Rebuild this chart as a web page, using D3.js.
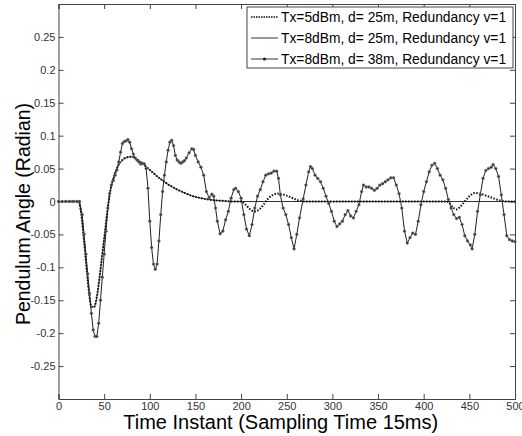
<!DOCTYPE html>
<html>
<head>
<meta charset="utf-8">
<script src="https://cdn.jsdelivr.net/npm/d3@7"></script>
<style>
  body { margin: 0; background: #fff; }
  text { font-family: "Liberation Sans", Arial, sans-serif; }
</style>
</head>
<body>
<div id="chart"></div>
<script>
// Series 1: Tx=5dBm, d=25m (dotted)
const t1 = [0, 22, 25, 28, 31, 34, 36, 39, 42, 45, 48, 51, 54, 57, 60, 63, 66, 70, 75, 80, 85, 90, 95, 100, 105, 110, 115, 120, 125, 130, 135, 140, 145, 150, 160, 170, 180, 190, 200, 205, 210, 215, 220, 225, 230, 235, 240, 245, 250, 255, 260, 265, 270, 300, 350, 400, 425, 428, 432, 436, 440, 445, 450, 456, 462, 468, 474, 480, 486, 490, 500];
const v1 = [0, 0, -0.02, -0.06, -0.105, -0.145, -0.16, -0.16, -0.145, -0.115, -0.08, -0.045, -0.01, 0.018, 0.035, 0.047, 0.056, 0.063, 0.067, 0.068, 0.065, 0.06, 0.054, 0.048, 0.042, 0.036, 0.031, 0.026, 0.022, 0.018, 0.015, 0.012, 0.009, 0.007, 0.004, 0.002, 0.001, 0, 0, -0.005, -0.012, -0.015, -0.012, -0.004, 0.005, 0.01, 0.012, 0.011, 0.009, 0.006, 0.003, 0.001, 0, 0, 0, 0, 0, -0.002, -0.009, -0.012, -0.008, 0, 0.008, 0.013, 0.012, 0.009, 0.006, 0.003, 0.001, 0, 0];

// Series 2: Tx=8dBm, d=25m (thin solid)
const t2 = [0, 22, 25, 28, 31, 34, 36, 39, 42, 45, 48, 51, 54, 57, 60, 63, 66, 70, 75, 80, 85, 90, 95, 100, 105, 110, 115, 120, 125, 130, 135, 140, 145, 150, 160, 170, 180, 190, 200, 300, 400, 500];
const v2 = [0, 0, -0.02, -0.06, -0.105, -0.145, -0.16, -0.16, -0.145, -0.115, -0.08, -0.045, -0.01, 0.018, 0.035, 0.047, 0.056, 0.063, 0.067, 0.068, 0.065, 0.06, 0.054, 0.048, 0.042, 0.036, 0.031, 0.026, 0.022, 0.018, 0.015, 0.012, 0.009, 0.007, 0.004, 0.002, 0.001, 0, 0, 0, 0, 0];

// Series 3: Tx=8dBm, d=38m (solid with markers)
const t3 = [0, 4, 8, 12, 16, 20, 23, 26, 28, 30, 32, 34, 36, 38, 40, 42, 44, 46, 48, 50, 52, 54, 56, 58, 60, 62, 64, 66, 68, 70, 72, 74, 76, 78, 80, 82, 84, 86, 88, 90, 92, 94, 96, 98, 100, 102, 104, 106, 108, 110, 112, 114, 116, 118, 120, 122, 124, 126, 128, 130, 132, 134, 136, 138, 140, 143, 146, 148, 150, 153, 156, 159, 162, 165, 168, 170, 172, 174, 177, 180, 183, 186, 189, 192, 194, 197, 200, 203, 206, 209, 212, 215, 218, 221, 224, 227, 230, 233, 236, 239, 241, 243, 246, 249, 252, 255, 258, 261, 264, 268, 271, 274, 276, 278, 281, 284, 287, 290, 293, 296, 299, 302, 305, 308, 311, 314, 317, 320, 323, 326, 329, 332, 334, 337, 340, 343, 346, 349, 352, 355, 358, 361, 364, 367, 370, 373, 376, 379, 382, 385, 388, 391, 394, 397, 400, 403, 406, 409, 412, 415, 418, 421, 424, 427, 430, 433, 436, 439, 442, 445, 448, 451, 453, 456, 459, 462, 465, 468, 471, 474, 476, 479, 482, 485, 488, 491, 494, 497, 500];
const v3 = [0, 0, 0, 0, 0, 0, 0, -0.02, -0.05, -0.08, -0.11, -0.14, -0.17, -0.195, -0.205, -0.205, -0.185, -0.15, -0.115, -0.08, -0.045, -0.01, 0.012, 0.025, 0.032, 0.04, 0.048, 0.06, 0.075, 0.088, 0.091, 0.092, 0.094, 0.09, 0.08, 0.072, 0.066, 0.063, 0.06, 0.057, 0.058, 0.057, 0.05, 0.02, -0.03, -0.07, -0.095, -0.103, -0.095, -0.06, -0.02, 0.015, 0.04, 0.06, 0.078, 0.09, 0.093, 0.085, 0.07, 0.063, 0.06, 0.058, 0.06, 0.062, 0.066, 0.074, 0.08, 0.079, 0.07, 0.06, 0.052, 0.04, 0.015, 0.006, 0.011, 0.008, -0.01, -0.03, -0.049, -0.045, -0.028, -0.015, 0.005, 0.018, 0.02, 0.015, 0.005, -0.02, -0.042, -0.052, -0.035, -0.01, 0.008, 0.018, 0.03, 0.04, 0.042, 0.043, 0.046, 0.046, 0.035, 0.01, -0.01, -0.02, -0.035, -0.055, -0.072, -0.05, -0.025, 0.004, 0.025, 0.045, 0.053, 0.05, 0.04, 0.035, 0.03, 0.02, 0.008, -0.003, -0.015, -0.03, -0.038, -0.034, -0.03, -0.02, -0.014, -0.022, -0.025, -0.015, -0.005, 0.015, 0.025, 0.022, 0.022, 0.02, 0.017, 0.02, 0.025, 0.027, 0.03, 0.033, 0.036, 0.036, 0.025, 0.012, -0.01, -0.045, -0.063, -0.055, -0.048, -0.05, -0.03, -0.005, 0.015, 0.03, 0.045, 0.055, 0.058, 0.05, 0.04, 0.033, 0.02, 0.003, -0.01, -0.02, -0.026, -0.024, -0.035, -0.052, -0.06, -0.066, -0.072, -0.05, -0.015, 0.01, 0.035, 0.047, 0.05, 0.052, 0.056, 0.05, 0.038, 0.01, -0.02, -0.052, -0.058, -0.06, -0.061];

const xTicks = [0, 50, 100, 150, 200, 250, 300, 350, 400, 450, 500];
const yTicks = [-0.25, -0.2, -0.15, -0.1, -0.05, 0, 0.05, 0.1, 0.15, 0.2, 0.25];
const legendLabels = [
    "Tx=5dBm, d= 25m, Redundancy v=1",
    "Tx=8dBm, d= 25m, Redundancy v=1",
    "Tx=8dBm, d= 38m, Redundancy v=1"
];

const W = 522, H = 436;
const margin = { top: 4, right: 7, bottom: 37, left: 58.5 };
const width = W - margin.left - margin.right;
const height = H - margin.top - margin.bottom;

const svg = d3.select("#chart").append("svg")
    .attr("width", W)
    .attr("height", H);

const g = svg.append("g")
    .attr("transform", `translate(${margin.left}, ${margin.top})`);

const x = d3.scaleLinear().domain([0, 500]).range([0, width]);
const y = d3.scaleLinear().domain([-0.3, 0.3]).range([height, 0]);

const axisColor = "#444";
const fmt = d => d === 0 ? "0" : String(d);

// axes (MATLAB style, ticks inside, box)
const axBottom = g.append("g")
    .attr("transform", `translate(0, ${height})`)
    .call(d3.axisBottom(x).tickValues(xTicks).tickSize(-5).tickPadding(3).tickFormat(fmt));
const axTop = g.append("g")
    .call(d3.axisTop(x).tickValues(xTicks).tickSize(-5).tickFormat(""));
const axLeft = g.append("g")
    .call(d3.axisLeft(y).tickValues(yTicks).tickSize(-5).tickPadding(3).tickFormat(fmt));
const axRight = g.append("g")
    .attr("transform", `translate(${width}, 0)`)
    .call(d3.axisRight(y).tickValues(yTicks).tickSize(-5).tickFormat(""));

[axBottom, axTop, axLeft, axRight].forEach(a => {
    a.select(".domain").attr("stroke", axisColor);
    a.selectAll(".tick line").attr("stroke", axisColor);
    a.selectAll("text")
        .style("font-family", "'Liberation Sans', Arial, sans-serif")
        .style("font-size", "11px")
        .attr("fill", "#333");
});

// lines
const toPts = (ts, vs) => ts.map((t, i) => ({ t: t, v: vs[i] }));
const s1 = toPts(t1, v1), s2 = toPts(t2, v2), s3 = toPts(t3, v3);

const smooth = d3.line().x(d => x(d.t)).y(d => y(d.v)).curve(d3.curveMonotoneX);
const straight = d3.line().x(d => x(d.t)).y(d => y(d.v));

g.append("path")
    .datum(s2)
    .attr("d", smooth)
    .attr("fill", "none")
    .attr("stroke", "#333")
    .attr("stroke-width", 1);

g.append("path")
    .datum(s1)
    .attr("d", smooth)
    .attr("fill", "none")
    .attr("stroke", "#111")
    .attr("stroke-width", 2)
    .attr("stroke-dasharray", "1.5,1.5");

g.append("path")
    .datum(s3)
    .attr("d", straight)
    .attr("fill", "none")
    .attr("stroke", "#222")
    .attr("stroke-width", 1);

g.selectAll(".marker")
    .data(s3)
    .enter()
    .append("circle")
    .attr("class", "marker")
    .attr("cx", d => x(d.t))
    .attr("cy", d => y(d.v))
    .attr("r", 1.4)
    .attr("fill", "#333")
    .attr("stroke", "#888")
    .attr("stroke-width", 0.5);

// axis titles
svg.append("text")
    .attr("x", margin.left + width / 2 - 6)
    .attr("y", 429)
    .style("text-anchor", "middle")
    .style("font-size", "20px")
    .text("Time Instant (Sampling Time 15ms)");

svg.append("text")
    .attr("transform", "rotate(-90)")
    .attr("x", -214)
    .attr("y", 30)
    .style("text-anchor", "middle")
    .style("font-size", "19.5px")
    .text("Pendulum Angle (Radian)");

// legend
const legend = svg.append("g")
    .attr("transform", "translate(247, 7)");

legend.append("rect")
    .attr("width", 266)
    .attr("height", 61)
    .attr("fill", "#fff")
    .attr("stroke", axisColor);

const rowY = [10, 31, 52];
legendLabels.forEach((label, i) => {
    const row = legend.append("g").attr("transform", `translate(0, ${rowY[i]})`);
    const ln = row.append("line")
        .attr("x1", 4).attr("x2", 31)
        .attr("y1", 0).attr("y2", 0)
        .attr("stroke", i === 0 ? "#111" : "#333")
        .attr("stroke-width", i === 0 ? 1.5 : 1);
    if (i === 0) ln.attr("stroke-dasharray", "1.5,1");
    if (i === 2) {
        row.append("circle").attr("cx", 17.5).attr("cy", 0).attr("r", 1.6).attr("fill", "#222");
    }
    row.append("text")
        .attr("x", 34)
        .attr("y", 0)
        .attr("dy", "0.35em")
        .style("font-size", "13.8px")
        .text(label);
});
</script>
</body>
</html>
